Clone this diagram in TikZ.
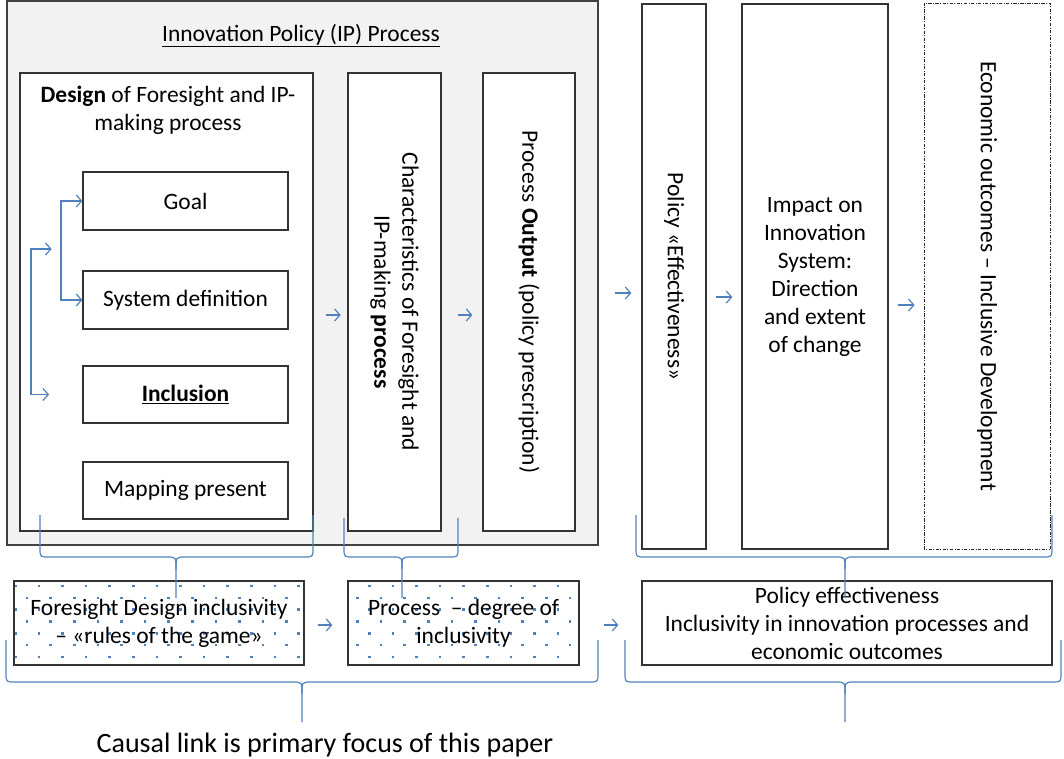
\documentclass[tikz,border=0pt]{standalone}
\usepackage{fontspec}
\setmainfont{Carlito}
\usetikzlibrary{arrows.meta,backgrounds}

\definecolor{linkblue}{HTML}{4F81BD}
\definecolor{panelgray}{HTML}{F2F2F2}
\newcommand{\px}{0.75pt}
% curly bracket: left x, right x, top y, bend y, middle x, tip y
\newcommand{\curlybrace}[6]{%
  \draw[bracket] (#1,#3) -- (#1,#4-9) .. controls (#1,#4) .. (#1+9,#4) -- (#5-9,#4) .. controls (#5,#4) .. (#5,#4+12) -- (#5,#6);
  \draw[bracket] (#2,#3) -- (#2,#4-9) .. controls (#2,#4) .. (#2-9,#4) -- (#5+9,#4) .. controls (#5,#4) .. (#5,#4+12);
}

\begin{document}
\begin{tikzpicture}[x=0.75pt, y=-0.75pt,
    every node/.style={font=\fontsize{17.6}{21}\selectfont, inner sep=0pt},
    box/.style={draw=black!80, line width=0.9pt, align=center},
    vbox/.style={box, rotate=-90},
    flow/.style={draw=linkblue, line width=0.9pt, -{Straight Barb[length=4pt,width=9pt]}},
    bracket/.style={draw=linkblue, line width=0.9pt}]
    \useasboundingbox (0,0) rectangle (1064,758);

    % innovation policy process panel
    \node[draw=black!75, fill=panelgray, line width=0.8pt, minimum width=591*\px, minimum height=544*\px] (ipbox) at (302.5,273) {};
    \node[anchor=base] (iptitle) at (301,41) {\underline{Innovation Policy (IP) Process}};

    \node[box, fill=white, minimum width=293*\px, minimum height=458*\px] (design) at (166.5,302) {};
    \node[anchor=north, align=center] (designtxt) at (168,86) {\textbf{Design} of Foresight and IP-\\making process};
    \node[box, fill=white, minimum width=205*\px, minimum height=58*\px] (goal) at (185.5,201) {Goal};
    \node[box, fill=white, minimum width=205*\px, minimum height=58*\px] (sysdef) at (185.5,300) {System definition};
    \node[box, fill=white, minimum width=205*\px, minimum height=57*\px] (inclusion) at (185.5,394.5) {\textbf{\underline{Inclusion}}};
    \node[box, fill=white, minimum width=205*\px, minimum height=57*\px] (mapping) at (185.5,490.5) {Mapping present};

    \node[vbox, fill=white, minimum width=458*\px, minimum height=93*\px] (chars) at (394.5,302) {Characteristics of Foresight and\\IP-making \textbf{process}};
    \node[vbox, fill=white, minimum width=458*\px, minimum height=92*\px] (output) at (529,302) {Process \textbf{Output} (policy prescription)};

    % effects
    \node[vbox, minimum width=545*\px, minimum height=64*\px] (policy) at (674,276.5) {Policy «Effectiveness»};
    \node[box, minimum width=146*\px, minimum height=545*\px] (impact) at (815,276.5) {Impact on\\Innovation\\System:\\Direction\\and extent\\of change};
    \node[vbox, draw=black!85, line width=0.6pt, dash pattern=on 2.5pt off 1.1pt on 0.6pt off 1.1pt, minimum width=546*\px, minimum height=126*\px] (econ) at (987,276) {Economic outcomes – Inclusive Development};

    % inclusivity row
    \node[box, minimum width=290*\px, minimum height=84*\px] (foresight) at (159,623) {Foresight Design inclusivity\\– «rules of the game»};
    \node[box, minimum width=231*\px, minimum height=84*\px] (degree) at (463.5,623) {Process\ \ – degree of\\inclusivity};
    \node[box, minimum width=410*\px, minimum height=84*\px] (effect) at (847,623) {Policy effectiveness\\Inclusivity in innovation processes and\\economic outcomes};
    \node[font=\fontsize{21}{24}\selectfont] (caption) at (325,745) {Causal link is primary focus of this paper};

    % dotted fill
    \begin{scope}[on background layer]
        \clip (foresight.south west) rectangle (foresight.north east) (degree.south west) rectangle (degree.north east);
        \foreach \r in {0,...,6}
            \foreach \c in {0,...,25}
                \fill[linkblue] ({13.9+23.6*\c+11.8*mod(\r,2)},{584.8+11.8*\r}) rectangle ++(2.6,2.6);
    \end{scope}

    % design links
    \coordinate (split) at (61,249);
    \coordinate (fork) at (31,322);
    \draw[flow] (split) |- (goal.west);
    \draw[flow] (split) |- (sysdef.west);
    \draw[flow, shorten >=7pt] (fork) |- (split);
    \draw[flow, shorten >=25pt] (fork) |- (inclusion.west);

    % flow arrows
    \draw[flow, shorten <=9pt, shorten >=5pt] ([yshift=-9.75pt]design.east) -- ([yshift=-9.75pt]design.east -| chars.south);
    \draw[flow, shorten <=12pt, shorten >=7.5pt] ([yshift=-9.75pt]chars.north) -- ([yshift=-9.75pt]chars.north -| output.south);
    \draw[flow, shorten <=12pt, shorten >=7.5pt] ([yshift=-15pt]ipbox.east) -- ([yshift=-15pt]ipbox.east -| policy.south);
    \draw[flow, shorten <=6.75pt, shorten >=6.75pt] ([yshift=-15.4pt]policy.north) -- ([yshift=-15.4pt]policy.north -| impact.west);
    \draw[flow, shorten <=6.75pt, shorten >=6.75pt] ([yshift=-21.4pt]impact.east) -- ([yshift=-21.4pt]impact.east -| econ.south);
    \draw[flow, shorten <=9.75pt, shorten >=11.25pt] ([yshift=-1.5pt]foresight.east) -- ([yshift=-1.5pt]foresight.east -| degree.west);
    \draw[flow, shorten <=18pt, shorten >=17.25pt] ([yshift=-1.5pt]degree.east) -- ([yshift=-1.5pt]degree.east -| effect.west);

    % brackets
    \curlybrace{40}{313}{515}{557}{176}{598}
    \curlybrace{344}{458}{518}{557}{402}{598}
    \curlybrace{636}{1052}{515}{557}{845}{598}
    \curlybrace{6}{598}{640}{682}{302}{722}
    \curlybrace{625}{1061}{640}{682}{845}{722}
\end{tikzpicture}
\end{document}
